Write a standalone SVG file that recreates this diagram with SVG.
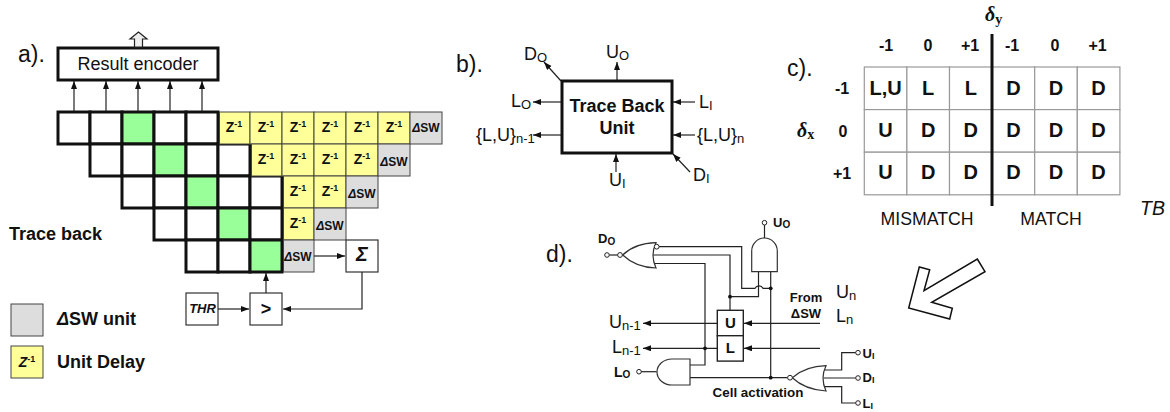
<svg xmlns="http://www.w3.org/2000/svg" width="1170" height="412" viewBox="0 0 1170 412">
<style>
text{font-family:"Liberation Sans",Arial,sans-serif;fill:#111}
.b{font-weight:bold}
.m{text-anchor:middle}
.cell{fill:#fff;stroke:#111;stroke-width:3}
.g{fill:#99ff99;stroke:#111;stroke-width:3}
.y{fill:#ffff99;stroke:#444;stroke-width:1}
.s{fill:#dddddd;stroke:#444;stroke-width:1}
.w{fill:#fff;stroke:#333;stroke-width:1.2}
.z{font-size:14px;font-weight:bold;text-anchor:middle}
.d{font-size:12px;font-weight:bold;text-anchor:middle}
.t{fill:#fff;stroke:#999;stroke-width:1.2}
.tt{font-size:20px;font-weight:bold;text-anchor:middle}
.h{font-size:16px;font-weight:bold;text-anchor:middle}
.l{font-size:18px}
.p{font-size:23px}
.c{fill:none;stroke:#222;stroke-width:1.2}
.a{fill:none;stroke:#222;stroke-width:1.2;marker-end:url(#ah)}
.ga{fill:#fff;stroke:#333;stroke-width:1.2}
.dot{fill:#111;stroke:none}
.o{fill:#fff;stroke:#222;stroke-width:1}
.ser{font-family:"Liberation Serif","Times New Roman",serif;font-weight:bold;font-style:italic}
</style>
<defs>
<marker id="ah" markerUnits="userSpaceOnUse" markerWidth="9" markerHeight="7" refX="8" refY="3" orient="auto"><path d="M0 0L8 3L0 6Z" fill="#111"/></marker>
</defs>
<text x="18" y="62" class="p">a).</text>
<text x="456" y="72" class="p">b).</text>
<text x="787" y="76" class="p">c).</text>
<text x="546" y="262" class="p">d).</text>

<g id="result-encoder">
<rect x="58" y="48" width="160" height="32" fill="#fff" stroke="#111" stroke-width="3"/>
<text x="138" y="70" class="m" style="font-size:18px">Result encoder</text>
</g>
<g id="output-arrow"><path d="M134.500 47V39H130L138.500 32L147 39H142.500V47Z" fill="#eee" stroke="#222" stroke-width="1.2"/></g>

<g id="array-cells">
<rect class="cell" x="58" y="112" width="32" height="32"/><rect class="cell" x="90" y="112" width="32" height="32"/><rect class="g" x="122" y="112" width="32" height="32"/><rect class="cell" x="154" y="112" width="32" height="32"/><rect class="cell" x="186" y="112" width="32" height="32"/>
<rect class="cell" x="90" y="144" width="32" height="32"/><rect class="cell" x="122" y="144" width="32" height="32"/><rect class="g" x="154" y="144" width="32" height="32"/><rect class="cell" x="186" y="144" width="32" height="32"/><rect class="cell" x="218" y="144" width="32" height="32"/>
<rect class="cell" x="122" y="176" width="32" height="32"/><rect class="cell" x="154" y="176" width="32" height="32"/><rect class="g" x="186" y="176" width="32" height="32"/><rect class="cell" x="218" y="176" width="32" height="32"/><rect class="cell" x="250" y="176" width="32" height="32"/>
<rect class="cell" x="154" y="208" width="32" height="32"/><rect class="cell" x="186" y="208" width="32" height="32"/><rect class="g" x="218" y="208" width="32" height="32"/><rect class="cell" x="250" y="208" width="32" height="32"/>
<rect class="cell" x="186" y="240" width="32" height="32"/><rect class="cell" x="218" y="240" width="32" height="32"/><rect class="g" x="250" y="240" width="32" height="32"/>
</g>

<g id="delay-cells">
<rect class="y" x="219.500" y="112" width="30.500" height="32"/><rect class="y" x="250" y="112" width="32" height="32"/><rect class="y" x="282" y="112" width="32" height="32"/><rect class="y" x="314" y="112" width="32" height="32"/><rect class="y" x="346" y="112" width="32" height="32"/><rect class="y" x="378" y="112" width="32" height="32"/>
<rect class="y" x="251.500" y="144" width="30.500" height="32"/><rect class="y" x="282" y="144" width="32" height="32"/><rect class="y" x="314" y="144" width="32" height="32"/><rect class="y" x="346" y="144" width="32" height="32"/>
<rect class="y" x="283.500" y="176" width="30.500" height="32"/><rect class="y" x="314" y="176" width="32" height="32"/>
<rect class="y" x="283.500" y="208" width="30.500" height="32"/>
<text class="z" x="234" y="132">Z<tspan font-size="9" dy="-5">-1</tspan></text><text class="z" x="266" y="132">Z<tspan font-size="9" dy="-5">-1</tspan></text><text class="z" x="298" y="132">Z<tspan font-size="9" dy="-5">-1</tspan></text><text class="z" x="330" y="132">Z<tspan font-size="9" dy="-5">-1</tspan></text><text class="z" x="362" y="132">Z<tspan font-size="9" dy="-5">-1</tspan></text><text class="z" x="394" y="132">Z<tspan font-size="9" dy="-5">-1</tspan></text>
<text class="z" x="266" y="164">Z<tspan font-size="9" dy="-5">-1</tspan></text><text class="z" x="298" y="164">Z<tspan font-size="9" dy="-5">-1</tspan></text><text class="z" x="330" y="164">Z<tspan font-size="9" dy="-5">-1</tspan></text><text class="z" x="362" y="164">Z<tspan font-size="9" dy="-5">-1</tspan></text>
<text class="z" x="298" y="196">Z<tspan font-size="9" dy="-5">-1</tspan></text><text class="z" x="330" y="196">Z<tspan font-size="9" dy="-5">-1</tspan></text>
<text class="z" x="298" y="228">Z<tspan font-size="9" dy="-5">-1</tspan></text>
</g>
<g id="dsw-cells">
<rect class="s" x="410" y="112" width="32" height="32"/><rect class="s" x="378" y="144" width="32" height="32"/><rect class="s" x="346" y="176" width="32" height="32"/><rect class="s" x="314" y="208" width="32" height="32"/><rect class="s" x="283.500" y="240" width="30.500" height="32"/>
<text class="d" x="426" y="132"><tspan font-style="italic">Δ</tspan>SW</text><text class="d" x="394" y="166"><tspan font-style="italic">Δ</tspan>SW</text><text class="d" x="362" y="198"><tspan font-style="italic">Δ</tspan>SW</text><text class="d" x="330" y="230"><tspan font-style="italic">Δ</tspan>SW</text><text class="d" x="298" y="261"><tspan font-style="italic">Δ</tspan>SW</text>
</g>
<g id="sigma"><rect class="w" x="346" y="240" width="32" height="32"/><text x="362" y="261" class="m b" style="font-size:20px;font-style:italic">Σ</text></g>
<g id="thr"><rect class="w" x="186" y="293" width="32" height="32"/><text x="202.500" y="313" class="m b" style="font-size:13px;font-style:italic">THR</text></g>
<g id="compare"><rect class="w" x="250" y="293" width="32" height="32"/><text x="266" y="315" class="m b" style="font-size:18px">&gt;</text></g>
<text x="9" y="240" class="b" style="font-size:18px" id="trace-back-label">Trace back</text>
<g id="legend-dsw"><rect class="s" x="11" y="304" width="32" height="32"/><text x="57" y="325" class="b" style="font-size:18px"><tspan font-style="italic">Δ</tspan>SW unit</text></g>
<g id="legend-delay"><rect class="y" x="11" y="346" width="32" height="32"/><text x="27" y="367" class="z"><tspan font-style="italic">Z</tspan><tspan font-size="9" dy="-5">-1</tspan></text><text x="57" y="368" class="b" style="font-size:18px">Unit Delay</text></g>

<g id="connectors">
<path class="a" d="M74 111V81"/><path class="a" d="M106 111V81"/><path class="a" d="M138 111V81"/><path class="a" d="M170 111V81"/><path class="a" d="M202 111V81"/>
<path class="a" d="M314 256H345"/><path class="a" d="M218 309H249"/><path class="a" d="M362 272V309H283"/><path class="a" d="M266 293V273"/>
<path class="a" d="M561 81L544 62"/><path class="a" d="M617 81V62"/><path class="a" d="M562 102H533"/><path class="a" d="M562 135H533"/><path class="a" d="M695 102H673"/><path class="a" d="M695 135H673"/><path class="a" d="M616 172V154"/><path class="a" d="M690 172L673 154"/>
<path class="c" d="M659 246.700H741.700V288.300H755a4.500 4.500 0 0 1 8 0H770.700"/>
<path class="c" d="M652.500 255H730V310"/>
<path class="c" d="M730 296.700H758.500V271.700"/>
<path class="c" d="M653.500 263.500H705V365H690"/>
<path class="c" d="M770.700 271.700V377.700"/>
<path class="c" d="M764.500 238V225"/>
<path class="c" d="M609.500 255H617.500"/>
<path class="c" d="M641 371.700H656.700"/>
<path class="c" d="M690 377.700H787.500"/>
<path class="a" d="M717 323.300H643"/><path class="a" d="M717 348.300H643"/><path class="a" d="M820 323.300H744"/><path class="a" d="M820 348.300H744"/>
<path class="c" d="M825 370H841.700V352.700H855.700"/><path class="c" d="M823.500 378H855.700"/><path class="c" d="M825 386.700H841.700V403H855.700"/>
<circle class="dot" cx="730" cy="296.700" r="1.900"/><circle class="dot" cx="770.700" cy="288.300" r="1.900"/><circle class="dot" cx="705" cy="348.300" r="1.900"/><circle class="dot" cx="770.700" cy="377.700" r="1.900"/>
</g>

<g id="trace-back-unit"><rect x="562" y="81" width="110" height="72" fill="#fff" stroke="#111" stroke-width="3"/><text x="617" y="112" class="m b" style="font-size:18px">Trace Back</text><text x="617" y="134" class="m b" style="font-size:18px">Unit</text></g>
<g id="b-labels">
<text class="l" x="524" y="60">D<tspan font-size="13" dy="2">O</tspan></text>
<text class="l" x="606" y="58">U<tspan font-size="13" dy="2">O</tspan></text>
<text class="l" x="511" y="107">L<tspan font-size="13" dy="2">O</tspan></text>
<text class="l" x="476" y="141">{L,U}<tspan font-size="13" dy="2">n-1</tspan></text>
<text class="l" x="699" y="108">L<tspan font-size="13" dy="2">I</tspan></text>
<text class="l" x="697" y="141">{L,U}<tspan font-size="13" dy="2">n</tspan></text>
<text class="l" x="609" y="186">U<tspan font-size="13" dy="2">I</tspan></text>
<text class="l" x="693" y="181">D<tspan font-size="13" dy="2">I</tspan></text>
</g>

<g id="tb-table">
<rect class="t" x="864.300" y="67" width="42.600" height="42.600"/><rect class="t" x="906.900" y="67" width="42.600" height="42.600"/><rect class="t" x="949.500" y="67" width="42.600" height="42.600"/><rect class="t" x="992.100" y="67" width="42.600" height="42.600"/><rect class="t" x="1034.700" y="67" width="42.600" height="42.600"/><rect class="t" x="1077.300" y="67" width="42.600" height="42.600"/>
<rect class="t" x="864.300" y="109.600" width="42.600" height="42.600"/><rect class="t" x="906.900" y="109.600" width="42.600" height="42.600"/><rect class="t" x="949.500" y="109.600" width="42.600" height="42.600"/><rect class="t" x="992.100" y="109.600" width="42.600" height="42.600"/><rect class="t" x="1034.700" y="109.600" width="42.600" height="42.600"/><rect class="t" x="1077.300" y="109.600" width="42.600" height="42.600"/>
<rect class="t" x="864.300" y="152.200" width="42.600" height="42.600"/><rect class="t" x="906.900" y="152.200" width="42.600" height="42.600"/><rect class="t" x="949.500" y="152.200" width="42.600" height="42.600"/><rect class="t" x="992.100" y="152.200" width="42.600" height="42.600"/><rect class="t" x="1034.700" y="152.200" width="42.600" height="42.600"/><rect class="t" x="1077.300" y="152.200" width="42.600" height="42.600"/>
<text class="tt" x="885.600" y="95">L,U</text><text class="tt" x="928.200" y="95">L</text><text class="tt" x="970.800" y="95">L</text><text class="tt" x="1013.400" y="95">D</text><text class="tt" x="1056" y="95">D</text><text class="tt" x="1098.600" y="95">D</text>
<text class="tt" x="885.600" y="137">U</text><text class="tt" x="928.200" y="137">D</text><text class="tt" x="970.800" y="137">D</text><text class="tt" x="1013.400" y="137">D</text><text class="tt" x="1056" y="137">D</text><text class="tt" x="1098.600" y="137">D</text>
<text class="tt" x="885.600" y="179">U</text><text class="tt" x="928.200" y="179">D</text><text class="tt" x="970.800" y="179">D</text><text class="tt" x="1013.400" y="179">D</text><text class="tt" x="1056" y="179">D</text><text class="tt" x="1098.600" y="179">D</text>
<text class="h" x="886" y="51">-1</text><text class="h" x="928" y="51">0</text><text class="h" x="970" y="51">+1</text><text class="h" x="1012" y="51">-1</text><text class="h" x="1055" y="51">0</text><text class="h" x="1097.500" y="51">+1</text>
<text class="h" x="842" y="94">-1</text><text class="h" x="843" y="137">0</text><text class="h" x="842" y="179">+1</text>
<path d="M992 34V206" stroke="#111" stroke-width="3" fill="none"/>
<text class="ser" x="985" y="21" style="font-size:20px">δ<tspan font-size="14" font-style="normal" dy="3">y</tspan></text>
<text class="ser" x="797" y="137" style="font-size:20px">δ<tspan font-size="14" font-style="normal" dy="2">x</tspan></text>
<text x="927" y="225" class="m" style="font-size:17.700px">MISMATCH</text>
<text x="1051" y="225" class="m" style="font-size:17.700px">MATCH</text>
<text x="1140" y="215" style="font-size:19.500px;font-style:italic">TB</text>
</g>

<g id="big-arrow"><path d="M977.300 259L985 271.700L931.700 302.300L952.300 308.300L949.700 319L908.700 308L919.300 267L929.700 269.700L924 290.700Z" fill="#fff" stroke="#111" stroke-width="1.500"/></g>

<g id="or-do"><path class="ga" d="M622.700 255C630 248 640 243 656 242.700Q650 255 656 268C640 267.500 630 262 622.700 255Z"/><circle class="o" cx="620" cy="255" r="2.400"/><circle class="o" cx="607" cy="255" r="2.300"/><circle class="o" cx="656.700" cy="246.700" r="2.400"/><text x="598" y="243" class="b" style="font-size:13px">D<tspan font-size="10" dy="2">O</tspan></text></g>
<g id="and-uo"><path class="ga" d="M751.700 271.700V251A12.800 13 0 0 1 777.300 251V271.700Z"/><circle class="o" cx="764.500" cy="222.700" r="2.300"/><text x="773" y="227" class="b" style="font-size:13px">U<tspan font-size="10" dy="1">O</tspan></text></g>
<g id="latch-u"><rect x="717.300" y="310.300" width="26" height="25.400" fill="#fff" stroke="#222" stroke-width="1.400"/><text x="730.300" y="328" class="m b" style="font-size:15px">U</text></g>
<g id="latch-l"><rect x="717.300" y="335.700" width="26" height="25.400" fill="#fff" stroke="#222" stroke-width="1.400"/><text x="730.300" y="353" class="m b" style="font-size:15px">L</text></g>
<g id="and-lo"><path class="ga" d="M690 359V385H672A15 13 0 0 1 672 359Z"/><circle class="o" cx="639" cy="371.700" r="2.300"/><text x="614" y="377" class="b" style="font-size:14px">L<tspan font-size="10" dy="1">O</tspan></text></g>
<g id="or-cell"><path class="ga" d="M792.300 377.700C800 371 812 366 826 365.700Q820 378 826 391C812 390 800 385 792.300 377.700Z"/><circle class="o" cx="790" cy="377.700" r="2.400"/><circle class="o" cx="858" cy="352.700" r="2.300"/><circle class="o" cx="858" cy="378" r="2.300"/><circle class="o" cx="858" cy="403" r="2.300"/><text x="862.500" y="357.500" class="b" style="font-size:13px">U<tspan font-size="9" dy="1">I</tspan></text><text x="862.500" y="382" class="b" style="font-size:13px">D<tspan font-size="9" dy="1">I</tspan></text><text x="862.500" y="408" class="b" style="font-size:13px">L<tspan font-size="9" dy="1">I</tspan></text></g>
<g id="d-labels">
<text class="l" x="609" y="328">U<tspan font-size="13" dy="2">n-1</tspan></text>
<text class="l" x="612" y="353">L<tspan font-size="13" dy="2">n-1</tspan></text>
<text x="836" y="298" class="l">U<tspan font-size="13" dy="2">n</tspan></text>
<text x="836" y="322" class="l">L<tspan font-size="13" dy="2">n</tspan></text>
<text x="806" y="302" class="m b" style="font-size:13px">From</text>
<text x="806" y="318" class="m b" style="font-size:13px">ΔSW</text>
<text x="758" y="397" class="m b" style="font-size:13.400px">Cell activation</text>
</g>
</svg>
